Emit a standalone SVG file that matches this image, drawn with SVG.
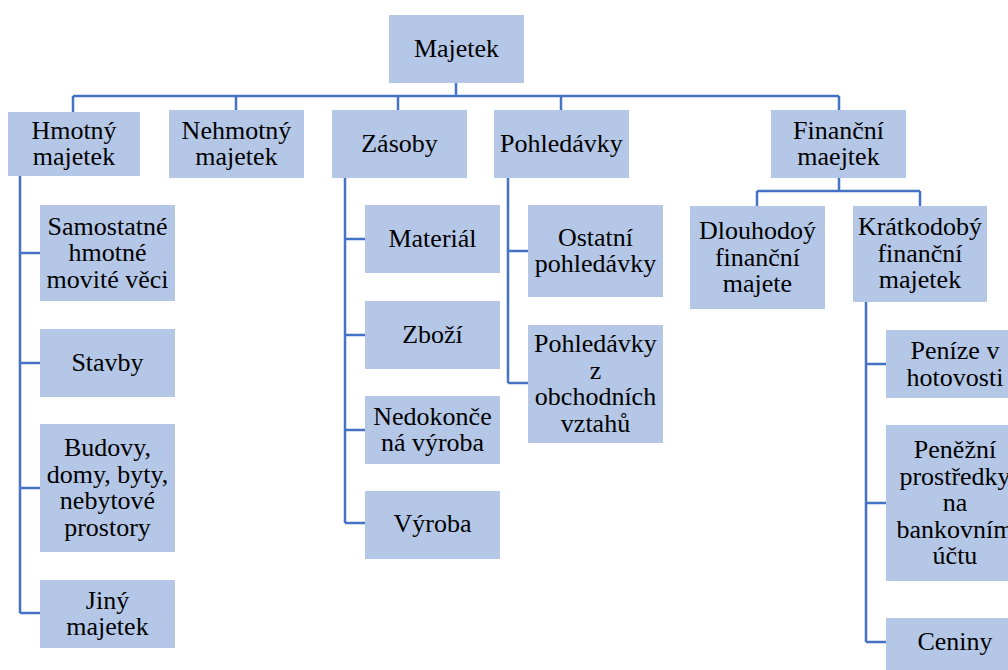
<svg xmlns="http://www.w3.org/2000/svg" width="1008" height="670" viewBox="0 0 1008 670">
<style>
.box{fill:#B4C7E7;}
.c{fill:none;stroke:#4472C4;stroke-width:2.5;}
</style>
<rect width="1008" height="670" fill="#fff"/>
<g id="connectors" class="c">
<path d="M456,83V96M73,96H839M73,96V112M236,96V110M398,96V110M561,96V110M839,96V110"/>
<path d="M20,176V613M20,253H40M20,363H40M20,488H40M20,613H40"/>
<path d="M345,178V523M345,239H365M345,335H365M345,430H365M345,523H365"/>
<path d="M508,178V383M508,251H528M508,383H528"/>
<path d="M839,178V191M757,191H920M757,191V206M920,191V206"/>
<path d="M866,302V642M866,364H886M866,503H886M866,642H886"/>
</g>
<g id="n-majetek"><rect class="box" x="389" y="15" width="135" height="68"/><text font-family="Liberation Serif" font-size="26" text-anchor="middle" x="456.5" y="57">Majetek</text></g>
<g id="n-hmotny"><rect class="box" x="8" y="112" width="132" height="64"/><text font-family="Liberation Serif" font-size="26" text-anchor="middle" x="74" y="138.5">Hmotný</text><text font-family="Liberation Serif" font-size="26" text-anchor="middle" x="74" y="165">majetek</text></g>
<g id="n-nehmotny"><rect class="box" x="169" y="110" width="135" height="68"/><text font-family="Liberation Serif" font-size="26" text-anchor="middle" x="236.5" y="138.5">Nehmotný</text><text font-family="Liberation Serif" font-size="26" text-anchor="middle" x="236.5" y="165">majetek</text></g>
<g id="n-zasoby"><rect class="box" x="332" y="110" width="135" height="68"/><text font-family="Liberation Serif" font-size="26" text-anchor="middle" x="399.5" y="152">Zásoby</text></g>
<g id="n-pohledavky"><rect class="box" x="494" y="110" width="135" height="68"/><text font-family="Liberation Serif" font-size="26" text-anchor="middle" x="561.5" y="152">Pohledávky</text></g>
<g id="n-financni"><rect class="box" x="771" y="110" width="135" height="68"/><text font-family="Liberation Serif" font-size="26" text-anchor="middle" x="838.5" y="138.5">Finanční</text><text font-family="Liberation Serif" font-size="26" text-anchor="middle" x="838.5" y="165">maejtek</text></g>
<g id="n-samostatne"><rect class="box" x="40" y="205" width="135" height="96"/><text font-family="Liberation Serif" font-size="26" text-anchor="middle" x="107.5" y="234.5">Samostatné</text><text font-family="Liberation Serif" font-size="26" text-anchor="middle" x="107.5" y="261">hmotné</text><text font-family="Liberation Serif" font-size="26" text-anchor="middle" x="107.5" y="287.5">movité věci</text></g>
<g id="n-stavby"><rect class="box" x="40" y="329" width="135" height="68"/><text font-family="Liberation Serif" font-size="26" text-anchor="middle" x="107.5" y="371">Stavby</text></g>
<g id="n-budovy"><rect class="box" x="40" y="424" width="135" height="128"/><text font-family="Liberation Serif" font-size="26" text-anchor="middle" x="107.5" y="456">Budovy,</text><text font-family="Liberation Serif" font-size="26" text-anchor="middle" x="107.5" y="482.5">domy, byty,</text><text font-family="Liberation Serif" font-size="26" text-anchor="middle" x="107.5" y="509">nebytové</text><text font-family="Liberation Serif" font-size="26" text-anchor="middle" x="107.5" y="535.5">prostory</text></g>
<g id="n-jiny"><rect class="box" x="40" y="580" width="135" height="68"/><text font-family="Liberation Serif" font-size="26" text-anchor="middle" x="107.5" y="608.5">Jiný</text><text font-family="Liberation Serif" font-size="26" text-anchor="middle" x="107.5" y="635">majetek</text></g>
<g id="n-material"><rect class="box" x="365" y="205" width="135" height="68"/><text font-family="Liberation Serif" font-size="26" text-anchor="middle" x="432.5" y="247">Materiál</text></g>
<g id="n-zbozi"><rect class="box" x="365" y="301" width="135" height="68"/><text font-family="Liberation Serif" font-size="26" text-anchor="middle" x="432.5" y="343">Zboží</text></g>
<g id="n-nedokoncena"><rect class="box" x="365" y="396" width="135" height="68"/><text font-family="Liberation Serif" font-size="26" text-anchor="middle" x="432.5" y="424.5">Nedokonče</text><text font-family="Liberation Serif" font-size="26" text-anchor="middle" x="432.5" y="451">ná výroba</text></g>
<g id="n-vyroba"><rect class="box" x="365" y="491" width="135" height="68"/><text font-family="Liberation Serif" font-size="26" text-anchor="middle" x="432.5" y="532">Výroba</text></g>
<g id="n-ostatni"><rect class="box" x="528" y="205" width="135" height="92"/><text font-family="Liberation Serif" font-size="26" text-anchor="middle" x="595.5" y="245.5">Ostatní</text><text font-family="Liberation Serif" font-size="26" text-anchor="middle" x="595.5" y="272">pohledávky</text></g>
<g id="n-obchodni"><rect class="box" x="528" y="325" width="135" height="118"/><text font-family="Liberation Serif" font-size="26" text-anchor="middle" x="595.5" y="352">Pohledávky</text><text font-family="Liberation Serif" font-size="26" text-anchor="middle" x="595.5" y="378.5">z</text><text font-family="Liberation Serif" font-size="26" text-anchor="middle" x="595.5" y="405">obchodních</text><text font-family="Liberation Serif" font-size="26" text-anchor="middle" x="595.5" y="431.5">vztahů</text></g>
<g id="n-dlouhodoby"><rect class="box" x="690" y="206" width="135" height="103"/><text font-family="Liberation Serif" font-size="26" text-anchor="middle" x="757.5" y="239">Dlouhodoý</text><text font-family="Liberation Serif" font-size="26" text-anchor="middle" x="757.5" y="265.5">finanční</text><text font-family="Liberation Serif" font-size="26" text-anchor="middle" x="757.5" y="292">majete</text></g>
<g id="n-kratkodoby"><rect class="box" x="853" y="206" width="134" height="96"/><text font-family="Liberation Serif" font-size="26" text-anchor="middle" x="920" y="235">Krátkodobý</text><text font-family="Liberation Serif" font-size="26" text-anchor="middle" x="920" y="261.5">finanční</text><text font-family="Liberation Serif" font-size="26" text-anchor="middle" x="920" y="288">majetek</text></g>
<g id="n-penize"><rect class="box" x="886" y="330" width="135" height="68"/><text font-family="Liberation Serif" font-size="26" text-anchor="middle" x="955" y="359">Peníze v</text><text font-family="Liberation Serif" font-size="26" text-anchor="middle" x="955" y="385.5">hotovosti</text></g>
<g id="n-penezni"><rect class="box" x="886" y="425" width="135" height="156"/><text font-family="Liberation Serif" font-size="26" text-anchor="middle" x="955" y="458">Peněžní</text><text font-family="Liberation Serif" font-size="26" text-anchor="middle" x="955" y="484.5">prostředky</text><text font-family="Liberation Serif" font-size="26" text-anchor="middle" x="955" y="511">na</text><text font-family="Liberation Serif" font-size="26" text-anchor="middle" x="955" y="537.5">bankovním</text><text font-family="Liberation Serif" font-size="26" text-anchor="middle" x="955" y="564">účtu</text></g>
<g id="n-ceniny"><rect class="box" x="886" y="618" width="135" height="68"/><text font-family="Liberation Serif" font-size="26" text-anchor="middle" x="955" y="650">Ceniny</text></g>
</svg>
